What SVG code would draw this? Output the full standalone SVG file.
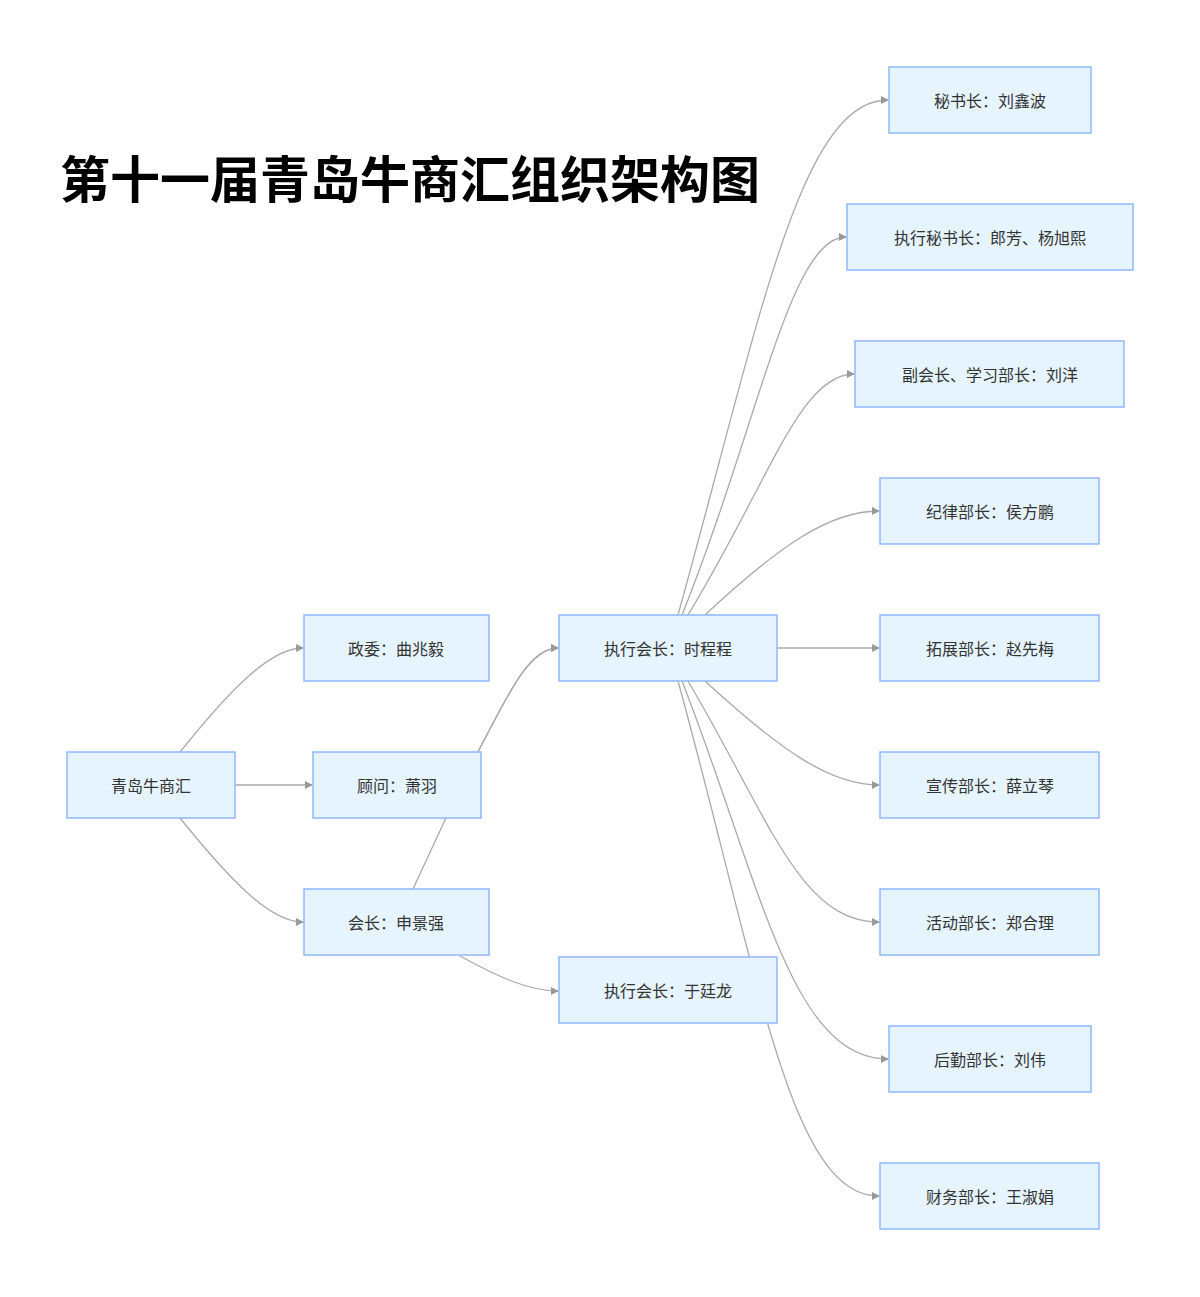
<svg xmlns="http://www.w3.org/2000/svg" width="1200" height="1297" viewBox="0 0 1200 1297">
<style>
.n rect{fill:#e6f4ff;stroke:#8fb8ff;stroke-width:1.5}
.n text{font-family:"Noto Sans CJK SC","Noto Sans",sans-serif;font-size:16px;fill:#333;text-anchor:middle;dominant-baseline:central}
.e path{fill:none;stroke:#aaa;stroke-width:1.3}
.a{marker-end:url(#ar)}
</style>
<defs><marker id="ar" viewBox="0 0 10 10" refX="9" refY="5" markerWidth="8" markerHeight="8" orient="auto" markerUnits="userSpaceOnUse"><path d="M0,0L10,5L0,10z" fill="#999"/></marker></defs>
<rect width="1200" height="1297" fill="#fff"/>
<text x="60" y="198" font-family="Noto Sans CJK SC,sans-serif" font-weight="bold" font-size="50" fill="#000">第十一届青岛牛商汇组织架构图</text>
<g class="e" id="edges">
<path class="a" d="M180,752 C230,690 270,648 303,648"/>
<path class="a" d="M235,785 L312,785"/>
<path class="a" d="M180,818 C230,880 270,922 303,922"/>
<path class="a" d="M478,752 C510,690 530,648 558,648"/>
<path class="a" d="M413,889 L445,820 L478,752 C510,690 530,648 558,648"/>
<path class="a" d="M460,956 C500,978 530,991 558,991"/>
<path class="a" d="M678,615 C760,320 800,100 888,100"/>
<path class="a" d="M682,615 C760,420 790,237 846,237"/>
<path class="a" d="M688,615 C770,480 800,374 854,374"/>
<path class="a" d="M705,615 C780,545 830,511 879,511"/>
<path class="a" d="M777,648 L879,648"/>
<path class="a" d="M705,681 C780,750 830,785 879,785"/>
<path class="a" d="M688,681 C770,820 800,922 879,922"/>
<path class="a" d="M682,681 C760,880 790,1059 888,1059"/>
<path class="a" d="M678,681 C760,980 790,1196 879,1196"/>
</g>
<g class="n" id="n_root"><rect x="67" y="752" width="168" height="66"/><text x="151" y="785">青岛牛商汇</text></g>
<g class="n" id="n_zw"><rect x="304" y="615" width="185" height="66"/><text x="396" y="648">政委：曲兆毅</text></g>
<g class="n" id="n_gw"><rect x="313" y="752" width="168" height="66"/><text x="397" y="785">顾问：萧羽</text></g>
<g class="n" id="n_hz"><rect x="304" y="889" width="185" height="66"/><text x="396" y="922">会长：申景强</text></g>
<g class="n" id="n_scc"><rect x="559" y="615" width="218" height="66"/><text x="668" y="648">执行会长：时程程</text></g>
<g class="n" id="n_ytl"><rect x="559" y="957" width="218" height="66"/><text x="668" y="990">执行会长：于廷龙</text></g>
<g class="n" id="n1"><rect x="889" y="67" width="202" height="66"/><text x="990" y="100">秘书长：刘鑫波</text></g>
<g class="n" id="n2"><rect x="847" y="204" width="286" height="66"/><text x="990" y="237">执行秘书长：郎芳、杨旭熙</text></g>
<g class="n" id="n3"><rect x="855" y="341" width="269" height="66"/><text x="990" y="374">副会长、学习部长：刘洋</text></g>
<g class="n" id="n4"><rect x="880" y="478" width="219" height="66"/><text x="990" y="511">纪律部长：侯方鹏</text></g>
<g class="n" id="n5"><rect x="880" y="615" width="219" height="66"/><text x="990" y="648">拓展部长：赵先梅</text></g>
<g class="n" id="n6"><rect x="880" y="752" width="219" height="66"/><text x="990" y="785">宣传部长：薛立琴</text></g>
<g class="n" id="n7"><rect x="880" y="889" width="219" height="66"/><text x="990" y="922">活动部长：郑合理</text></g>
<g class="n" id="n8"><rect x="889" y="1026" width="202" height="66"/><text x="990" y="1059">后勤部长：刘伟</text></g>
<g class="n" id="n9"><rect x="880" y="1163" width="219" height="66"/><text x="990" y="1196">财务部长：王淑娟</text></g>
</svg>
